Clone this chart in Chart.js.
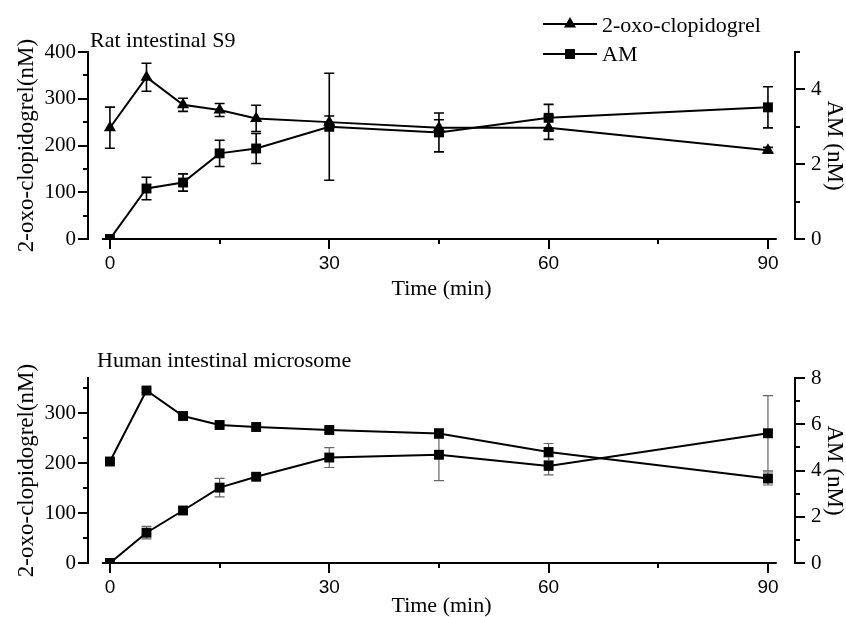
<!DOCTYPE html>
<html>
<head>
<meta charset="utf-8">
<script src="https://cdn.jsdelivr.net/npm/chart.js@4.4.1/dist/chart.umd.min.js"></script>
<style>
  html, body { margin: 0; padding: 0; background: #fff; }
  #wrap { position: relative; width: 846px; height: 617px; }
  #wrap canvas { position: absolute; left: 0; }
</style>
</head>
<body>
<div id="wrap">
  <canvas id="rat" width="846" height="310" style="top:0"></canvas>
  <canvas id="human" width="846" height="307" style="top:310px"></canvas>
</div>
<script>
// sampling times (min)
const timeMin = [0, 5, 10, 15, 20, 30, 45, 60, 90];
const seriesNames = ['2-oxo-clopidogrel', 'AM'];
const xTicks = [0, 30, 60, 90];
const xMinorTicks = [15, 45, 75];

// Rat intestinal S9
const ratOxo = [238, 346, 287, 276, 258, 250, 238, 238, 190];
const ratOxoErr = [44, 30, 14, 14, 28, 13, 17, 25, 6];
const ratAM = [0, 1.35, 1.51, 2.29, 2.42, 3.0, 2.85, 3.24, 3.52];
const ratAMErr = [0, 0.3, 0.23, 0.35, 0.4, 1.43, 0.52, 0.36, 0.55];
const ratLeftTicks = [0, 100, 200, 300, 400];
const ratLeftMinor = [50, 150, 250, 350];
const ratRightTicks = [0, 2, 4];
const ratRightMinor = [1, 3, 5];

// Human intestinal microsome
const humOxo = [203, 345, 294, 276, 272, 266, 259, 222, 169];
const humOxoErr = [4, 4, 4, 4, 4, 5, 10, 17, 13];
const humAM = [0, 1.31, 2.27, 3.26, 3.73, 4.56, 4.68, 4.2, 5.61];
const humAMErr = [0, 0.27, 0.1, 0.4, 0.1, 0.43, 1.12, 0.39, 1.63];
const humLeftTicks = [0, 100, 200, 300];
const humLeftMinor = [50, 150, 250, 350];
const humRightTicks = [0, 2, 4, 6, 8];
const humRightMinor = [1, 3, 5, 7];

Chart.defaults.font.family = 'Liberation Serif';
Chart.defaults.color = '#000';

const SERIF = 'Liberation Serif';

// origin-style axes, error bars, title and legend
const originPlugin = {
  id: 'origin',
  beforeDatasetsDraw(chart, args, opts) {
    const ctx = chart.ctx;
    const xs = chart.scales.x;
    chart.data.datasets.forEach((ds) => {
      const ys = chart.scales[ds.yAxisID];
      ctx.save();
      ctx.strokeStyle = opts.errColor;
      ctx.lineWidth = opts.errWidth;
      ds.data.forEach((p, i) => {
        const e = ds.errors[i];
        if (!e) return;
        const px = xs.getPixelForValue(p.x);
        const t = ys.getPixelForValue(p.y + e);
        const b = ys.getPixelForValue(p.y - e);
        ctx.beginPath();
        ctx.moveTo(px, t); ctx.lineTo(px, b);
        ctx.moveTo(px - 5, t); ctx.lineTo(px + 5, t);
        ctx.moveTo(px - 5, b); ctx.lineTo(px + 5, b);
        ctx.stroke();
      });
      ctx.restore();
    });
  },
  afterDraw(chart, args, opts) {
    const ctx = chart.ctx;
    const { x, y, y1 } = chart.scales;
    const area = chart.chartArea;
    ctx.save();
    ctx.strokeStyle = '#000';
    ctx.lineWidth = 2;
    ctx.beginPath();
    ctx.moveTo(x.getPixelForValue(-1.1), area.bottom);
    ctx.lineTo(x.getPixelForValue(91.2), area.bottom);
    xMinorTicks.forEach(v => {
      const px = Math.round(x.getPixelForValue(v));
      ctx.moveTo(px, area.bottom); ctx.lineTo(px, area.bottom + 5);
    });
    opts.leftMinor.forEach(v => {
      const py = Math.round(y.getPixelForValue(v));
      ctx.moveTo(area.left - 5, py); ctx.lineTo(area.left, py);
    });
    opts.rightMinor.forEach(v => {
      const py = Math.round(y1.getPixelForValue(v));
      ctx.moveTo(area.right, py); ctx.lineTo(area.right + 5, py);
    });
    ctx.stroke();

    ctx.fillStyle = '#000';
    ctx.font = '22px ' + SERIF;
    ctx.textBaseline = 'alphabetic';
    ctx.textAlign = 'left';
    ctx.fillText(opts.title, opts.titleX, opts.titleY);

    if (opts.legend) {
      const rows = [
        { y: 24, style: 'triangle', base: 31.5 },
        { y: 54, style: 'rect', base: 61 }
      ];
      rows.forEach((r, i) => {
        ctx.beginPath();
        ctx.moveTo(543, r.y); ctx.lineTo(597, r.y);
        ctx.stroke();
        Chart.helpers.drawPoint(ctx, { pointStyle: r.style, radius: 7, rotation: 0, borderWidth: 0 }, 570, r.y);
        ctx.fillText(seriesNames[i], 602, r.base);
      });
    }
    ctx.restore();
  }
};

function pts(vals) {
  return timeMin.map((t, i) => ({ x: t, y: vals[i] }));
}

function lineSet(label, vals, errs, axis, style) {
  return {
    label: label,
    data: pts(vals),
    errors: errs,
    yAxisID: axis,
    borderColor: '#000',
    backgroundColor: '#000',
    borderWidth: 2,
    pointStyle: style,
    pointRadius: 7,
    pointBorderWidth: 0,
    tension: 0,
    clip: 0
  };
}

function makeChart(id, c) {
  const gridOpts = { drawOnChartArea: false, drawTicks: true, tickLength: 10, color: '#000', lineWidth: 2 };
  return new Chart(document.getElementById(id), {
    type: 'line',
    data: {
      datasets: [
        lineSet(seriesNames[0], c.oxo, c.oxoErr, 'y', c.oxoStyle),
        lineSet(seriesNames[1], c.am, c.amErr, 'y1', 'rect')
      ]
    },
    options: {
      responsive: false,
      animation: false,
      events: [],
      layout: { padding: { top: c.top, left: 0, right: 0, bottom: 0 } },
      plugins: {
        legend: { display: false },
        tooltip: { enabled: false },
        origin: {
          title: c.title, titleX: c.titleX, titleY: c.titleY, legend: c.legend,
          errColor: c.errColor, errWidth: c.errWidth,
          leftMinor: c.leftMinor, rightMinor: c.rightMinor
        }
      },
      scales: {
        x: {
          type: 'linear', min: -3, max: 93.7,
          afterBuildTicks: s => { s.ticks = xTicks.map(v => ({ value: v })); },
          afterFit: s => { s.height = c.height - c.bottom; },
          border: { display: false },
          grid: gridOpts,
          ticks: { font: { family: 'Liberation Sans', size: 19 }, padding: 3, maxRotation: 0, autoSkip: false },
          title: { display: true, text: 'Time (min)', font: { size: 22, lineHeight: 1 }, padding: { top: 0, bottom: c.xTitlePad } }
        },
        y: {
          position: 'left', min: 0, max: c.leftMax,
          afterBuildTicks: s => { s.ticks = c.leftTicks.map(v => ({ value: v })); },
          afterFit: s => { s.width = 88; },
          border: { display: true, color: '#000', width: 2 },
          grid: gridOpts,
          ticks: { font: { size: 21 }, padding: 2, autoSkip: false },
          title: { display: true, text: '2-oxo-clopidogrel(nM)', font: { size: 23, lineHeight: 1 }, padding: { top: 15, bottom: 0 } }
        },
        y1: {
          position: 'right', min: 0, max: c.rightMax,
          afterBuildTicks: s => { s.ticks = c.rightTicks.map(v => ({ value: v })); },
          afterFit: s => { s.width = 846 - 795; },
          border: { display: true, color: '#000', width: 2 },
          grid: gridOpts,
          ticks: { font: { size: 21 }, padding: 6, autoSkip: false },
          title: { display: true, text: 'AM (nM)', font: { size: 23, lineHeight: 1 }, padding: { top: 0, bottom: 0 } }
        }
      }
    },
    plugins: [originPlugin]
  });
}

makeChart('rat', {
  height: 310, top: 52, bottom: 239, xTitlePad: 10,
  oxo: ratOxo, oxoErr: ratOxoErr, am: ratAM, amErr: ratAMErr, oxoStyle: 'triangle',
  leftMax: 400, rightMax: 5,
  leftTicks: ratLeftTicks, leftMinor: ratLeftMinor, rightTicks: ratRightTicks, rightMinor: ratRightMinor,
  title: 'Rat intestinal S9', titleX: 90, titleY: 47, legend: true,
  errColor: '#000', errWidth: 1.6
});

makeChart('human', {
  height: 307, top: 68, bottom: 253, xTitlePad: 0,
  oxo: humOxo, oxoErr: humOxoErr, am: humAM, amErr: humAMErr, oxoStyle: 'rect',
  leftMax: 370, rightMax: 8,
  leftTicks: humLeftTicks, leftMinor: humLeftMinor, rightTicks: humRightTicks, rightMinor: humRightMinor,
  title: 'Human intestinal microsome', titleX: 97, titleY: 57, legend: false,
  errColor: '#666', errWidth: 1.2
});
</script>
</body>
</html>
